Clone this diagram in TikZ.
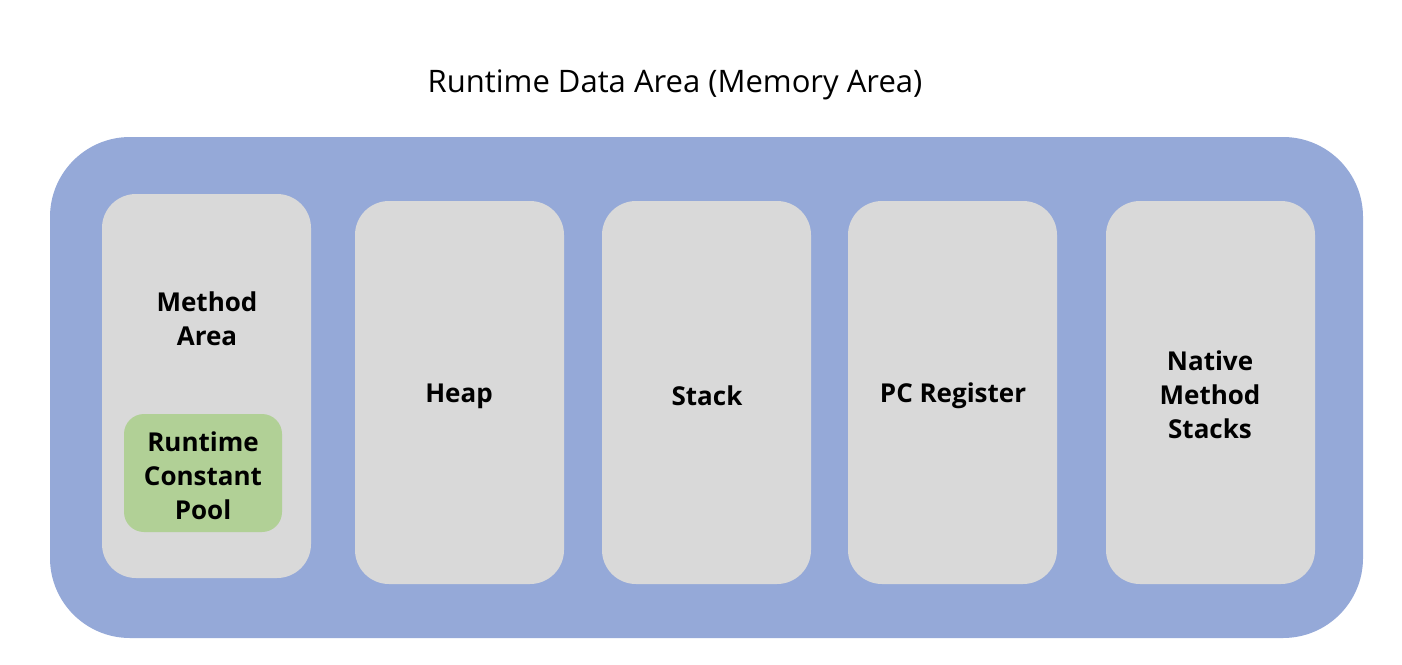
\documentclass[tikz,border=0pt]{standalone}
\usepackage{fontspec}
\setmainfont{Open Sans}
\definecolor{outerblue}{RGB}{149,169,216}
\definecolor{boxgray}{RGB}{217,217,217}
\definecolor{poolgreen}{RGB}{177,208,150}
\begin{document}
\begin{tikzpicture}[x=1pt,y=-1pt,
  area/.style={fill=boxgray,draw=none,rounded corners=34pt},
  lbl/.style={font=\bfseries\fontsize{26}{34}\selectfont,align=center,text=black}]
\useasboundingbox (0,0) rectangle (1402,664);
\fill[white] (0,0) rectangle (1402,664);
\node[font=\fontsize{31}{34}\selectfont] (title) at (675,85) {Runtime Data Area (Memory Area)};
\fill[outerblue,rounded corners=80pt] (50,137) rectangle (1363,638);
\fill[area] (102,194) rectangle (311,578);
\fill[area] (355,201) rectangle (564,584);
\fill[area] (602,201) rectangle (811,584);
\fill[area] (848,201) rectangle (1057,584);
\fill[area] (1106,201) rectangle (1315,584);
\fill[poolgreen,rounded corners=20pt] (124,414) rectangle (282,532);
\node[lbl] (method) at (207,319) {Method\\Area};
\node[lbl] (pool) at (203,476) {Runtime\\Constant\\Pool};
\node[lbl] (heap) at (459,396) {Heap};
\node[lbl] (stack) at (707,396) {Stack};
\node[lbl] (pc) at (953,396) {PC Register};
\node[lbl] (native) at (1210,395) {Native\\Method\\Stacks};
\end{tikzpicture}
\end{document}
